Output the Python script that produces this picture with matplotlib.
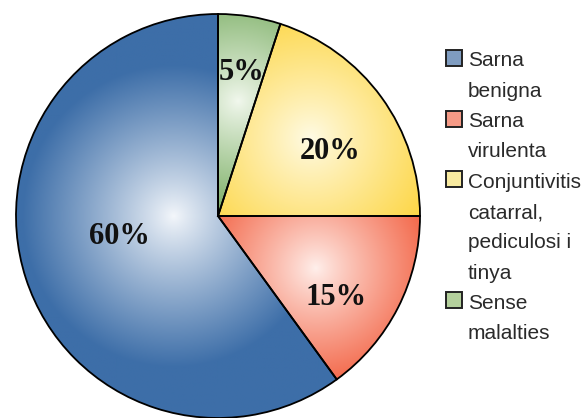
import matplotlib.pyplot as plt
import numpy as np
from matplotlib.colors import to_rgb

# dades: distribucio de malalties
labels = ['Sarna\nbenigna', 'Sarna\nvirulenta', 'Conjuntivitis\ncatarral,\npediculosi i\ntinya',
          'Sense\nmalalties']
values = [60, 15, 20, 5]

edge_cols = ['#3d6ea8', '#f0441f', '#fdd233', '#5a9a3e']
light_cols = ['#f4f7fb', '#fff0ec', '#fffbe6', '#f2f8ee']
leg_cols = ['#7f9cc0', '#f59a86', '#f8eaa0', '#b4d09c']

W, H = 582, 418
cx, cy, R = 218, H - 216, 202

fig = plt.figure(figsize=(W / 100, H / 100), dpi=100)
ax = fig.add_axes([0, 0, 1, 1])

wedges, texts, autotexts = ax.pie(values, center=(cx, cy), radius=R, startangle=90,
                                  counterclock=True, autopct='%1.0f%%',
                                  wedgeprops=dict(edgecolor='black', linewidth=1.3, facecolor='none'),
                                  textprops=dict(family='Liberation Serif', fontsize=22,
                                                 fontweight='bold', color='#111111'))

# radial gradient inside each slice (highlight point as fraction of radius / angle)
highlights = [(0.22, 180), (0.55, -28), (0.6, 40), (0.58, 80)]
gx = np.linspace(cx - R, cx + R, 400)
gy = np.linspace(cy - R, cy + R, 400)
X, Y = np.meshgrid(gx, gy)
for w, ec, lc, (hr, ha) in zip(wedges, edge_cols, light_cols, highlights):
    hx = cx + hr * R * np.cos(np.radians(ha))
    hy = cy + hr * R * np.sin(np.radians(ha))
    d = np.sqrt((X - hx) ** 2 + (Y - hy) ** 2) / (0.75 * R)
    t = np.clip(d, 0, 1) ** 0.9
    e = np.array(to_rgb(ec))
    l = np.array(to_rgb(lc))
    img = l[None, None, :] * (1 - t[..., None]) + e[None, None, :] * t[..., None]
    im = ax.imshow(img, extent=(cx - R, cx + R, cy - R, cy + R), origin='lower', zorder=0.5)
    im.set_clip_path(w)
    w.set_zorder(1)

# position of percentage labels (fraction of radius, angle)
label_pos = [(0.50, 192), (0.71, -34.5), (0.64, 29.7), (0.72, 80.5)]
for t, (r, a) in zip(autotexts, label_pos):
    t.set_position((cx + r * R * np.cos(np.radians(a)), cy + r * R * np.sin(np.radians(a))))
    t.set_zorder(3)

# legend drawn by hand: square + multi-line text
line_h = 30.3
y = H - 61
for lab, c in zip(labels, leg_cols):
    ax.add_patch(plt.Rectangle((446, y - 5), 16, 16, facecolor=c, edgecolor='#222222',
                               linewidth=1.4, zorder=3))
    for i, line in enumerate(lab.split('\n')):
        ax.text(468, y - i * line_h, line, ha='left', va='center', family='Liberation Sans',
                fontsize=15, color='#2a2a2a')
    y -= line_h * len(lab.split('\n'))

ax.set_xlim(0, W)
ax.set_ylim(0, H)
ax.set_aspect('equal')
ax.axis('off')

fig.savefig('out.png', dpi=100, facecolor='white')
